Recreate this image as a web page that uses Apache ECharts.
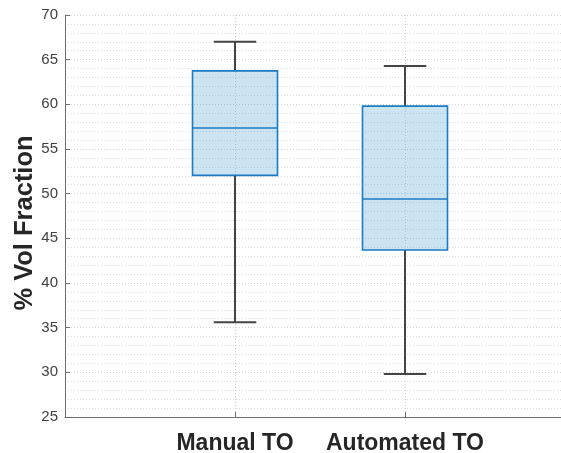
<!DOCTYPE html>
<html>
<head>
<meta charset="utf-8">
<script src="https://cdn.jsdelivr.net/npm/echarts@6/dist/echarts.min.js"></script>
<style>
html,body{margin:0;padding:0;background:#fff;}
#chart{width:561px;height:453px;}
</style>
</head>
<body>
<div id="chart"></div>
<script>
// Data
var categories = ['Manual TO', 'Automated TO'];
var categoryPositions = [1, 2];
var whiskerLow = [35.6, 29.8];
var quartile1 = [52.05, 43.7];
var medians = [57.35, 49.4];
var quartile3 = [63.75, 59.8];
var whiskerHigh = [67.0, 64.3];
var yTicks = [25, 30, 35, 40, 45, 50, 55, 60, 65, 70];

var rows = categoryPositions.map(function (x, i) {
  return [x, whiskerLow[i], quartile1[i], medians[i], quartile3[i], whiskerHigh[i]];
});

var FONT = '"Liberation Sans", Arial, Helvetica, sans-serif';
var chart = echarts.init(document.getElementById('chart'), null, {renderer: 'canvas'});

var BOX_HALF = 0.25, CAP_HALF = 0.125;
var boxStroke = '#1a7bc4', boxFill = 'rgba(0,114,189,0.2)', whisk = '#444444';

function renderItem(params, api) {
  var x = api.value(0);
  var lo = api.value(1), q1 = api.value(2), md = api.value(3), q3 = api.value(4), hi = api.value(5);
  var pL = api.coord([x - BOX_HALF, q3]);
  var pR = api.coord([x + BOX_HALF, q1]);
  var c = api.coord([x, md]);
  var cHi = api.coord([x, hi]);
  var cLo = api.coord([x, lo]);
  var capL = api.coord([x - CAP_HALF, hi]);
  var capR = api.coord([x + CAP_HALF, hi]);
  var capL2 = api.coord([x - CAP_HALF, lo]);
  var capR2 = api.coord([x + CAP_HALF, lo]);
  var wStyle = {stroke: whisk, lineWidth: 2};
  return {
    type: 'group',
    children: [
      {type: 'line', shape: {x1: cHi[0], y1: cHi[1], x2: cHi[0], y2: pL[1]}, style: wStyle},
      {type: 'line', shape: {x1: cLo[0], y1: cLo[1], x2: cLo[0], y2: pR[1]}, style: wStyle},
      {type: 'line', shape: {x1: capL[0], y1: capL[1], x2: capR[0], y2: capR[1]}, style: wStyle},
      {type: 'line', shape: {x1: capL2[0], y1: capL2[1], x2: capR2[0], y2: capR2[1]}, style: wStyle},
      {type: 'rect', shape: {x: pL[0], y: pL[1], width: pR[0] - pL[0], height: pR[1] - pL[1]},
        style: {fill: boxFill, stroke: boxStroke, lineWidth: 1.6}},
      {type: 'line', shape: {x1: pL[0], y1: c[1], x2: pR[0], y2: c[1]},
        style: {stroke: boxStroke, lineWidth: 1.6}}
    ]
  };
}

chart.setOption({
  animation: false,
  backgroundColor: '#ffffff',
  grid: {left: 65, right: -14, top: 15, bottom: 36, containLabel: false, outerBoundsMode: 'none'},
  xAxis: {
    type: 'value', min: 0, max: 3, interval: 1,
    axisLine: {show: true, onZero: false, lineStyle: {color: '#6e6e6e', width: 1}},
    axisTick: {show: true, inside: true, length: 5, lineStyle: {color: '#6e6e6e'},
      customValues: categoryPositions},
    axisLabel: {
      show: true, margin: 15, color: '#262626', fontFamily: FONT, fontSize: 23, fontWeight: 'bold',
      customValues: categoryPositions,
      formatter: function (v) {
        var idx = categoryPositions.indexOf(v);
        return idx >= 0 ? categories[idx] : '';
      }
    },
    splitLine: {show: true, lineStyle: {color: '#d4d4d4', type: [1, 2], width: 1}}
  },
  yAxis: {
    type: 'value', min: yTicks[0], max: yTicks[yTicks.length - 1], interval: 5,
    name: '% Vol Fraction', nameLocation: 'middle', nameGap: 27, nameMoveOverlap: false,
    nameTextStyle: {color: '#262626', fontFamily: FONT, fontSize: 25.5, fontWeight: 'bold',
      padding: [0, 14, 0, 0]},
    axisLine: {show: true, lineStyle: {color: '#6e6e6e', width: 1}},
    axisTick: {show: true, inside: true, length: 5, lineStyle: {color: '#6e6e6e'}},
    axisLabel: {show: true, margin: 7, color: '#404040', fontFamily: FONT, fontSize: 15},
    splitLine: {show: true, lineStyle: {color: '#d4d4d4', type: [1, 2], width: 1}},
    minorTick: {show: false, splitNumber: 5},
    minorSplitLine: {show: true, lineStyle: {color: '#dedede', type: [1, 2], width: 1}}
  },
  series: [{
    type: 'custom',
    renderItem: renderItem,
    encode: {x: 0, y: [1, 2, 3, 4, 5]},
    data: rows,
    clip: false,
    z: 5
  }]
});
</script>
</body>
</html>
